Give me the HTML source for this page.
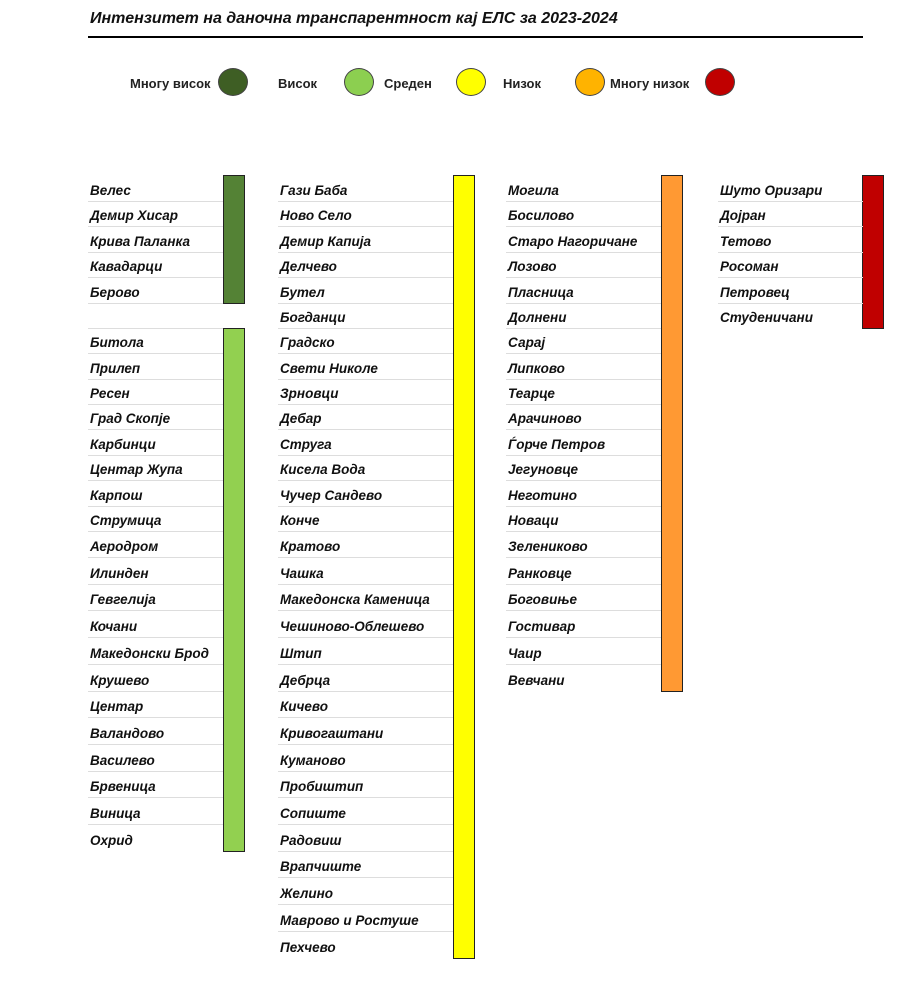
<!DOCTYPE html>
<html><head><meta charset="utf-8"><style>
body{margin:0;width:916px;height:988px;background:#fff;position:relative;font-family:"Liberation Sans","DejaVu Sans",sans-serif;overflow:hidden}
.t{position:absolute;left:90px;top:10px;font-size:16px;font-weight:bold;font-style:italic;color:#111}
.hl{position:absolute;left:88px;top:36px;width:775px;height:2px;background:#000}
.lg{position:absolute;top:76px;font-size:13px;font-weight:bold;color:#222}
.c{position:absolute;width:30px;height:28px;border-radius:50%;border:1px solid #444;box-sizing:border-box;top:68px}
.r{position:absolute;height:25px;line-height:27px;border-bottom:1px solid #ddd;font-size:13.5px;font-weight:bold;font-style:italic;color:#111;box-sizing:border-box;padding-left:2px;white-space:nowrap}
.a{left:88px;width:135px}.b{left:278px;width:175px}.d{left:506px;width:155px}.e{left:718px;width:145px}
.bar{position:absolute;width:22px;border:1px solid #222;box-sizing:border-box}
</style></head><body>
<div class="t">Интензитет на даночна транспарентност кај ЕЛС за 2023-2024</div>
<div class="hl"></div>
<div class="lg" style="left:130px">Многу висок</div><div class="c" style="left:218px;background:#3e5e24"></div>
<div class="lg" style="left:278px">Висок</div><div class="c" style="left:344px;background:#8ccf50"></div>
<div class="lg" style="left:384px">Среден</div><div class="c" style="left:456px;background:#ffff00"></div>
<div class="lg" style="left:503px">Низок</div><div class="c" style="left:575px;background:#ffb300"></div>
<div class="lg" style="left:610px">Многу низок</div><div class="c" style="left:705px;background:#c00000"></div>

<div class="bar" style="left:223px;top:175px;height:129px;background:#548235"></div>
<div class="bar" style="left:223px;top:328px;height:524px;background:#92d050"></div>
<div class="bar" style="left:453px;top:175px;height:784px;background:#ffff00"></div>
<div class="bar" style="left:661px;top:175px;height:517px;background:#ff9933"></div>
<div class="bar" style="left:862px;top:175px;height:154px;background:#c00000"></div>

<div class="r a" style="top:177px">Велес</div>
<div class="r a" style="top:202px">Демир Хисар</div>
<div class="r a" style="top:228px">Крива Паланка</div>
<div class="r a" style="top:253px">Кавадарци</div>
<div class="r a" style="top:279px">Берово</div>
<div class="r a" style="top:304px"></div>
<div class="r a" style="top:329px">Битола</div>
<div class="r a" style="top:355px">Прилеп</div>
<div class="r a" style="top:380px">Ресен</div>
<div class="r a" style="top:405px">Град Скопје</div>
<div class="r a" style="top:431px">Карбинци</div>
<div class="r a" style="top:456px">Центар Жупа</div>
<div class="r a" style="top:482px">Карпош</div>
<div class="r a" style="top:507px">Струмица</div>
<div class="r a" style="top:533px">Аеродром</div>
<div class="r a" style="top:560px">Илинден</div>
<div class="r a" style="top:586px">Гевгелија</div>
<div class="r a" style="top:613px">Кочани</div>
<div class="r a" style="top:640px">Македонски Брод</div>
<div class="r a" style="top:667px">Крушево</div>
<div class="r a" style="top:693px">Центар</div>
<div class="r a" style="top:720px">Валандово</div>
<div class="r a" style="top:747px">Василево</div>
<div class="r a" style="top:773px">Брвеница</div>
<div class="r a" style="top:800px">Виница</div>
<div class="r a" style="top:827px;border-bottom:none">Охрид</div>

<div class="r b" style="top:177px">Гази Баба</div>
<div class="r b" style="top:202px">Ново Село</div>
<div class="r b" style="top:228px">Демир Капија</div>
<div class="r b" style="top:253px">Делчево</div>
<div class="r b" style="top:279px">Бутел</div>
<div class="r b" style="top:304px">Богданци</div>
<div class="r b" style="top:329px">Градско</div>
<div class="r b" style="top:355px">Свети Николе</div>
<div class="r b" style="top:380px">Зрновци</div>
<div class="r b" style="top:405px">Дебар</div>
<div class="r b" style="top:431px">Струга</div>
<div class="r b" style="top:456px">Кисела Вода</div>
<div class="r b" style="top:482px">Чучер Сандево</div>
<div class="r b" style="top:507px">Конче</div>
<div class="r b" style="top:533px">Кратово</div>
<div class="r b" style="top:560px">Чашка</div>
<div class="r b" style="top:586px">Македонска Каменица</div>
<div class="r b" style="top:613px">Чешиново-Облешево</div>
<div class="r b" style="top:640px">Штип</div>
<div class="r b" style="top:667px">Дебрца</div>
<div class="r b" style="top:693px">Кичево</div>
<div class="r b" style="top:720px">Кривогаштани</div>
<div class="r b" style="top:747px">Куманово</div>
<div class="r b" style="top:773px">Пробиштип</div>
<div class="r b" style="top:800px">Сопиште</div>
<div class="r b" style="top:827px">Радовиш</div>
<div class="r b" style="top:853px">Врапчиште</div>
<div class="r b" style="top:880px">Желино</div>
<div class="r b" style="top:907px">Маврово и Ростуше</div>
<div class="r b" style="top:934px;border-bottom:none">Пехчево</div>

<div class="r d" style="top:177px">Могила</div>
<div class="r d" style="top:202px">Босилово</div>
<div class="r d" style="top:228px">Старо Нагоричане</div>
<div class="r d" style="top:253px">Лозово</div>
<div class="r d" style="top:279px">Пласница</div>
<div class="r d" style="top:304px">Долнени</div>
<div class="r d" style="top:329px">Сарај</div>
<div class="r d" style="top:355px">Липково</div>
<div class="r d" style="top:380px">Теарце</div>
<div class="r d" style="top:405px">Арачиново</div>
<div class="r d" style="top:431px">Ѓорче Петров</div>
<div class="r d" style="top:456px">Јегуновце</div>
<div class="r d" style="top:482px">Неготино</div>
<div class="r d" style="top:507px">Новаци</div>
<div class="r d" style="top:533px">Зелениково</div>
<div class="r d" style="top:560px">Ранковце</div>
<div class="r d" style="top:586px">Боговиње</div>
<div class="r d" style="top:613px">Гостивар</div>
<div class="r d" style="top:640px">Чаир</div>
<div class="r d" style="top:667px;border-bottom:none">Вевчани</div>

<div class="r e" style="top:177px">Шуто Оризари</div>
<div class="r e" style="top:202px">Дојран</div>
<div class="r e" style="top:228px">Тетово</div>
<div class="r e" style="top:253px">Росоман</div>
<div class="r e" style="top:279px">Петровец</div>
<div class="r e" style="top:304px;border-bottom:none">Студеничани</div>
</body></html>
